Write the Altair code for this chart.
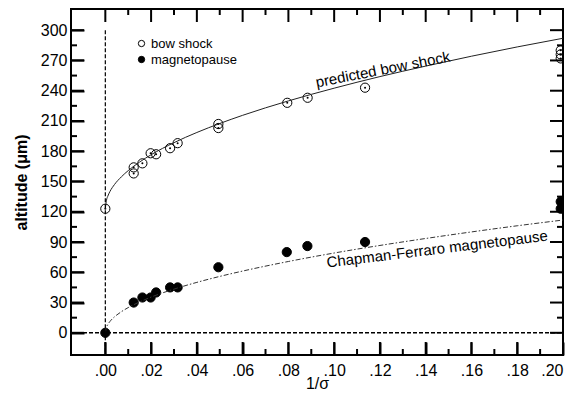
import altair as alt
import pandas as pd

# ---- data ----
bow_x = [0.0, 0.0124, 0.0124, 0.0162, 0.0198, 0.0222, 0.0283, 0.0316, 0.0494, 0.0494,
         0.0795, 0.0884, 0.1135, 0.199, 0.199, 0.199]
bow_y = [123, 164, 158, 168, 178, 177, 183, 188, 207, 203, 228, 233, 243, 280, 276, 272]

mp_x = [0.0, 0.0124, 0.0162, 0.0198, 0.0222, 0.0283, 0.0316, 0.0494, 0.0793, 0.0883, 0.1135, 0.199, 0.199]
mp_y = [0, 30, 35, 35, 40, 45, 45, 65, 80, 86, 90, 123, 130]

curve_x = [0.0, 0.0005, 0.001, 0.002, 0.004, 0.007, 0.01, 0.015, 0.02, 0.03, 0.04, 0.05,
           0.06, 0.08, 0.10, 0.12, 0.14, 0.16, 0.18, 0.20]
bow_fit_y = [123, 131.5, 135, 140, 147, 154.6, 160.8, 169.3, 176.5, 188.5, 198.6, 207.5,
             215.6, 229.9, 242.5, 254, 264.4, 274.2, 283.4, 292]
cf_fit_y = [0, 5.6, 7.9, 11.2, 15.8, 20.9, 25, 30.6, 35.4, 43.3, 50, 55.9,
            61.2, 70.7, 79.1, 86.6, 93.5, 100, 106.1, 111.8]

x_major = [0.00, 0.02, 0.04, 0.06, 0.08, 0.10, 0.12, 0.14, 0.16, 0.18, 0.20]
x_minor = [0.01, 0.03, 0.05, 0.07, 0.09, 0.11, 0.13, 0.15, 0.17, 0.19]
y_major = [0, 30, 60, 90, 120, 150, 180, 210, 240, 270, 300]
y_minor = [15, 45, 75, 105, 135, 165, 195, 225, 255, 285]

X_DOMAIN = [-0.015, 0.20]
Y_DOMAIN = [-22, 321]

ref_v_x = [0.0, 0.0]
ref_v_y = [300, -22]
ref_h_x = [-0.015, 0.20]
ref_h_y = [0, 0]

labels_text = ["predicted bow shock", "Chapman-Ferraro magnetopause"]
labels_x = [0.1213, 0.145]
labels_y = [261, 83]

series_names = ["bow shock", "magnetopause"]

# ---- chart ----
W, H = 492, 346
FONT = "Liberation Sans"
MJ, MN = 13, 6
xs = alt.Scale(domain=X_DOMAIN, nice=False, zero=False)
ys = alt.Scale(domain=Y_DOMAIN, nice=False, zero=False)

tick_common = dict(ticks=True, tickColor="#000000", tickWidth=2, tickOpacity=1,
                   domain=False, grid=False, zindex=2)

x_axis_main = alt.Axis(orient="bottom", values=x_major, offset=-MJ, tickSize=MJ,
                       labelExpr="replace(format(datum.value, '.2f'), /^0/, '')",
                       labelPadding=7, labelFontSize=16, labelFont=FONT, labelColor="black",
                       labelAlign=alt.condition("datum.value >= 0.199", alt.value("right"),
                                                alt.value("center")),
                       labelFlush=False,
                       title="1/σ", titleFont=FONT, titleFontSize=16, titleFontWeight="normal",
                       titleColor="black", titleBaseline="alphabetic", titleY=46,
                       **tick_common)
y_axis_main = alt.Axis(orient="left", values=y_major, offset=-MJ, tickSize=MJ,
                       labelPadding=4, labelFontSize=16, labelFont=FONT, labelColor="black",
                       title="altitude (μm)", titleFont=FONT, titleFontSize=16,
                       titleFontWeight="bold", titleColor="black", titlePadding=11,
                       **tick_common)


def X(f, axis=None):
    return alt.X(f, type="quantitative", scale=xs, axis=axis)


def Y(f, axis=None):
    return alt.Y(f, type="quantitative", scale=ys, axis=axis)


# inward frame ticks as thin filled rectangles (tick sizes converted px -> data units)
kx = (X_DOMAIN[1] - X_DOMAIN[0]) / W
ky = (Y_DOMAIN[1] - Y_DOMAIN[0]) / H
TW = 1.0  # half tick width in px
rects = []
for vals, L in ((x_major, MJ), (x_minor, MN)):
    for v in vals:
        rects.append({"x1": v - TW * kx, "x2": v + TW * kx,
                      "y1": Y_DOMAIN[0], "y2": Y_DOMAIN[0] + L * ky})
        rects.append({"x1": v - TW * kx, "x2": v + TW * kx,
                      "y1": Y_DOMAIN[1] - L * ky, "y2": Y_DOMAIN[1]})
for vals, L in ((y_major, MJ), (y_minor, MN)):
    for v in vals:
        rects.append({"x1": X_DOMAIN[0], "x2": X_DOMAIN[0] + L * kx,
                      "y1": v - TW * ky, "y2": v + TW * ky})
        rects.append({"x1": X_DOMAIN[1] - L * kx, "x2": X_DOMAIN[1],
                      "y1": v - TW * ky, "y2": v + TW * ky})
frame_ticks = alt.Chart(pd.DataFrame(rects)).mark_rect(color="black", opacity=1).encode(
    x=X("x1"), x2=alt.X2("x2"), y=Y("y1"), y2=alt.Y2("y2"))

curves = pd.DataFrame({"x": curve_x, "bow": bow_fit_y, "cf": cf_fit_y})
bow_line = alt.Chart(curves).mark_line(color="#222", strokeWidth=1, interpolate="monotone").encode(
    x=X("x"), y=Y("bow"))
cf_line = alt.Chart(curves).mark_line(color="#333", strokeWidth=1, strokeDash=[5, 2, 1.5, 2],
                                      interpolate="monotone").encode(x=X("x"), y=Y("cf"))

vline = alt.Chart(pd.DataFrame({"x": ref_v_x, "y": ref_v_y})).mark_line(
    color="black", strokeWidth=1.2, strokeDash=[4, 2]).encode(x=X("x"), y=Y("y"))
hline = alt.Chart(pd.DataFrame({"x": ref_h_x, "y": ref_h_y})).mark_line(
    color="black", strokeWidth=1.5, strokeDash=[4, 2]).encode(x=X("x"), y=Y("y"))

dots = alt.Chart(pd.DataFrame({"x": bow_x, "y": bow_y})).mark_circle(
    size=4, color="black", opacity=1, clip=True).encode(x=X("x"), y=Y("y"))

pts = pd.DataFrame({"x": bow_x + mp_x, "y": bow_y + mp_y,
                    "series": [series_names[0]] * len(bow_x) + [series_names[1]] * len(mp_x)})
points = alt.Chart(pts).mark_point(shape="circle", filled=True, size=85, stroke="black",
                                   strokeWidth=1, opacity=1, clip=True).encode(
    x=X("x", x_axis_main), y=Y("y", y_axis_main),
    fill=alt.Fill("series:N", scale=alt.Scale(domain=series_names, range=["transparent", "black"]),
                  legend=alt.Legend(title=None, orient="none", legendX=64, legendY=28,
                                    symbolSize=40, symbolStrokeColor="black", symbolStrokeWidth=1,
                                    labelFont=FONT, labelFontSize=13, labelColor="black",
                                    labelOffset=3, rowPadding=2, padding=0)))

ann = pd.DataFrame({"x": labels_x, "y": labels_y, "t": labels_text})
ann1 = alt.Chart(ann.iloc[[0]]).mark_text(font=FONT, fontSize=15, angle=349, color="black").encode(
    x=X("x"), y=Y("y"), text="t:N")
ann2 = alt.Chart(ann.iloc[[1]]).mark_text(font=FONT, fontSize=15, angle=353, color="black").encode(
    x=X("x"), y=Y("y"), text="t:N")

chart = alt.layer(points, dots, bow_line, cf_line, hline, vline, ann1, ann2, frame_ticks).resolve_axis(
    x="independent", y="independent"
).properties(
    width=W, height=H,
    background="white",
    autosize=alt.AutoSizeParams(type="none"),
    padding={"left": 63, "top": 1, "right": 3, "bottom": 36},
).configure_view(stroke="black", strokeWidth=2)

chart.save("out.html", embed_options={"renderer": "svg", "actions": False})
